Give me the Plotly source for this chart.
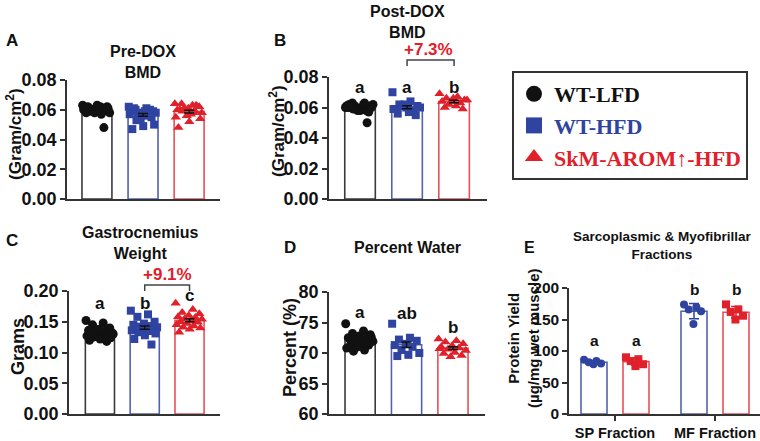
import numpy as np
import plotly.graph_objects as go

W, H = 760, 441

# ---- values ----
groups = ["WT-LFD", "WT-HFD", "SkM-AROM↑-HFD"]

pre_bmd_lfd = [0.063, 0.062, 0.061, 0.062, 0.060, 0.061, 0.059, 0.060, 0.058, 0.059,
               0.062, 0.061, 0.058, 0.060, 0.057, 0.059, 0.061, 0.063, 0.058, 0.048]
pre_bmd_hfd = [0.062, 0.061, 0.060, 0.059, 0.058, 0.060, 0.057, 0.056, 0.058, 0.059,
               0.061, 0.055, 0.054, 0.057, 0.056, 0.053, 0.050, 0.049, 0.047, 0.060]
pre_bmd_arom = [0.064, 0.063, 0.064, 0.062, 0.061, 0.060, 0.059, 0.061, 0.058, 0.057,
                0.060, 0.062, 0.056, 0.055, 0.058, 0.059, 0.054, 0.052, 0.048, 0.063]

post_bmd_lfd = [0.060, 0.062, 0.063, 0.061, 0.059, 0.060, 0.058, 0.061, 0.062, 0.059,
                0.060, 0.057, 0.058, 0.061, 0.063, 0.059, 0.060, 0.058, 0.062, 0.050]
post_bmd_hfd = [0.070, 0.064, 0.062, 0.061, 0.060, 0.059, 0.058, 0.061, 0.060, 0.057,
                0.056, 0.055, 0.062, 0.059, 0.058]
post_bmd_arom = [0.069, 0.067, 0.066, 0.065, 0.066, 0.064, 0.063, 0.062, 0.065, 0.061,
                 0.060, 0.059, 0.064]

gastro_lfd = [0.152, 0.148, 0.145, 0.140, 0.138, 0.136, 0.135, 0.133, 0.132, 0.131, 0.130,
              0.129, 0.128, 0.127, 0.126, 0.125, 0.124, 0.122, 0.120, 0.118, 0.135, 0.130]
gastro_hfd = [0.168, 0.162, 0.158, 0.150, 0.147, 0.145, 0.143, 0.142, 0.141, 0.140, 0.139,
              0.138, 0.137, 0.136, 0.135, 0.133, 0.131, 0.128, 0.122, 0.113, 0.140]
gastro_arom = [0.180, 0.170, 0.165, 0.163, 0.160, 0.158, 0.157, 0.155, 0.154, 0.152,
               0.150, 0.149, 0.147, 0.145, 0.143, 0.141, 0.140, 0.138, 0.133, 0.150]

water_lfd = [74.8, 73.6, 73.2, 73.0, 72.8, 72.5, 72.3, 72.1, 71.9, 71.7, 71.5, 71.3,
             71.0, 70.8, 70.5, 70.3, 72.6]
water_hfd = [74.8, 72.5, 72.2, 72.0, 71.5, 71.3, 71.0, 70.5, 70.0, 69.7, 69.5]
water_arom = [72.3, 72.0, 71.8, 71.5, 71.2, 71.0, 70.8, 70.6, 70.4, 70.1, 69.9, 69.6,
              69.4, 70.7]

fractions = ["SP Fraction", "MF Fraction"]
sp_hfd = [86, 84, 82, 80, 79]
sp_arom = [90, 87, 84, 79, 76]
mf_hfd = [174, 170, 166, 163, 143]
mf_arom = [174, 166, 162, 156, 150]

# ---- styles ----
keys = ["lfd", "hfd", "arom"]
PT = {"lfd": "#111111", "hfd": "#2f43a0", "arom": "#e0202a"}
EDGE = {"lfd": "#3a3a3a", "hfd": "#5163ad", "arom": "#e6505a"}
SYM = {"lfd": "circle", "hfd": "square", "arom": "triangle-up"}
SIZE = {"lfd": 9, "hfd": 8, "arom": 9}
SANS = "Liberation Sans"
AX = "#333333"


def sem(v):
    v = np.asarray(v, float)
    return v.std(ddof=1) / np.sqrt(len(v))


def sd(v):
    return np.asarray(v, float).std(ddof=1)


def jitter(n, w):
    k = np.arange(n)
    return ((k * 0.618034) % 1.0 - 0.5) * w


fig = go.Figure()

# axis name, data, x px span, x range, y px span (top, bottom), y range, dtick, tickformat
panels = [
    ("", [pre_bmd_lfd, pre_bmd_hfd, pre_bmd_arom], (67, 220), [-0.65, 2.67], (80, 199), [0, 0.08], 0.02, ".2f"),
    ("2", [post_bmd_lfd, post_bmd_hfd, post_bmd_arom], (329, 487), [-0.66, 2.70], (77, 199), [0, 0.08], 0.02, ".2f"),
    ("3", [gastro_lfd, gastro_hfd, gastro_arom], (69, 220), [-0.69, 2.68], (291, 414), [0, 0.20], 0.05, ".2f"),
    ("4", [water_lfd, water_hfd, water_arom], (329, 485), [-0.67, 2.69], (292, 414), [60, 80], 5, "d"),
]

for ax, data, xpx, xr, ypx, yr, dt, fmt in panels:
    xa, ya = "x" + ax, "y" + ax
    for i, (k, vals) in enumerate(zip(keys, data)):
        fig.add_trace(go.Bar(x=[i], y=[np.mean(vals)], width=0.65, xaxis=xa, yaxis=ya,
                             marker=dict(color="white", line=dict(color=EDGE[k], width=1.6)),
                             showlegend=False, hoverinfo="skip"))
    for i, (k, vals) in enumerate(zip(keys, data)):
        fig.add_trace(go.Scatter(x=i + jitter(len(vals), 0.62), y=vals, mode="markers",
                                 xaxis=xa, yaxis=ya, cliponaxis=False, showlegend=False,
                                 marker=dict(symbol=SYM[k], color=PT[k], size=SIZE[k])))
    for i, (k, vals) in enumerate(zip(keys, data)):
        fig.add_trace(go.Scatter(x=[i], y=[np.mean(vals)], mode="markers", xaxis=xa, yaxis=ya,
                                 marker=dict(size=2, color="rgba(0,0,0,0)"), showlegend=False,
                                 error_y=dict(type="data", array=[sem(vals)], color="#111111",
                                              thickness=1.5, width=5)))
    fig.layout["xaxis" + ax] = dict(domain=[xpx[0] / W, xpx[1] / W], range=xr, anchor=ya,
                                    automargin=False, showline=True, linecolor=AX, linewidth=1.5,
                                    showticklabels=False, ticks="", showgrid=False, zeroline=False)
    fig.layout["yaxis" + ax] = dict(domain=[1 - ypx[1] / H, 1 - ypx[0] / H], range=yr, anchor=xa,
                                    automargin=False, showline=True, linecolor=AX, linewidth=1.5,
                                    ticks="outside", ticklen=5, tickwidth=1.5, tickcolor=AX,
                                    dtick=dt, tick0=yr[0], tickformat=fmt, showgrid=False,
                                    zeroline=False,
                                    tickfont=dict(family=SANS, size=18, color="#111", weight="bold"))

# panel E: grouped fractions
e_sets = [("hfd", [sp_hfd, mf_hfd], -0.21, "circle"), ("arom", [sp_arom, mf_arom], 0.21, "square")]
for k, vals, off, sym in e_sets:
    fig.add_trace(go.Bar(x=[0, 1], y=[np.mean(v) for v in vals], width=0.26, offset=off - 0.13,
                         xaxis="x5", yaxis="y5", showlegend=False, hoverinfo="skip",
                         marker=dict(color="white", line=dict(color=EDGE[k], width=1.6))))
for k, vals, off, sym in e_sets:
    fig.add_trace(go.Scatter(x=[off, 1 + off], y=[np.mean(v) for v in vals], mode="markers",
                             xaxis="x5", yaxis="y5", showlegend=False,
                             marker=dict(size=2, color="rgba(0,0,0,0)"),
                             error_y=dict(type="data", array=[sd(v) for v in vals], color=PT[k],
                                          thickness=1.5, width=5)))
for k, vals, off, sym in e_sets:
    for j, v in enumerate(vals):
        fig.add_trace(go.Scatter(x=j + off + jitter(len(v), 0.2), y=v, mode="markers",
                                 xaxis="x5", yaxis="y5", cliponaxis=False, showlegend=False,
                                 marker=dict(symbol=sym, color=PT[k], size=8)))
fig.layout["xaxis5"] = dict(domain=[569 / W, 1.0], range=[-0.46, 1.45], anchor="y5",
                            automargin=False, tickvals=[0, 1], ticktext=fractions, showline=True,
                            linecolor=AX, linewidth=1.5, ticks="outside", ticklen=5, tickwidth=1.5,
                            tickcolor=AX, showgrid=False, zeroline=False,
                            tickfont=dict(family=SANS, size=14.5, color="#111", weight="bold"))
fig.layout["yaxis5"] = dict(domain=[1 - 414 / H, 1 - 288 / H], range=[0, 200], anchor="x5",
                            automargin=False, showline=True, linecolor=AX, linewidth=1.5,
                            ticks="outside", ticklen=5, tickwidth=1.5, tickcolor=AX, dtick=50,
                            showgrid=False, zeroline=False,
                            tickfont=dict(family=SANS, size=15.5, color="#111", weight="bold"))

# legend entries
for k, g in zip(keys, groups):
    fig.add_trace(go.Scatter(x=[None], y=[None], mode="markers", xaxis="x", yaxis="y",
                             name=f"<span style='color:{PT[k]}'>{g}</span>",
                             marker=dict(symbol=SYM[k], color=PT[k], size=16)))

# text annotations (pixel positions)
ann = []


def text(x, y, t, size=17, color="#111", angle=0):
    ann.append(dict(x=x / W, y=1 - y / H, xref="paper", yref="paper", text=t, showarrow=False,
                    textangle=angle, xanchor="center", yanchor="middle",
                    font=dict(family=SANS, size=size, color=color, weight="bold")))


text(12, 40, "A")
text(143, 62, "Pre-DOX<br>BMD", 16)
text(14, 134, "(Gram/cm<sup>2</sup>)", 17, angle=-90)
text(280, 40, "B")
text(407, 22, "Post-DOX<br>BMD", 16)
text(277, 131, "(Gram/cm<sup>2</sup>)", 17, angle=-90)
text(12, 240, "C")
text(140, 243, "Gastrocnemius<br>Weight", 16)
text(18, 347, "Grams", 18, angle=-90)
text(290, 247, "D")
text(407, 247, "Percent Water", 16)
text(290, 348, "Percent (%)", 18, angle=-90)
text(529, 247, "E", 16)
text(662, 246, "Sarcoplasmic & Myofibrillar<br>Fractions", 13.5)
text(523, 338, "Protein Yield<br>(µg/mg wet muscle)", 15, angle=-90)


def data_text(ax, x, y, t, color="#111", size=17):
    ann.append(dict(x=x, y=y, xref="x" + ax, yref="y" + ax, text=t, showarrow=False,
                    xanchor="center", yanchor="middle",
                    font=dict(family=SANS, size=size, color=color, weight="bold")))


for i, t in enumerate(["a", "a", "b"]):
    data_text("2", i, 0.0734, t)
for i, (t, y) in enumerate([("a", 0.179), ("b", 0.179), ("c", 0.193)]):
    data_text("3", i, y, t)
for i, (t, y) in enumerate([("a", 76.7), ("ab", 76.4), ("b", 74.1)]):
    data_text("4", i, y, t)
for x, t, y in [(-0.21, "a", 116), (0.21, "a", 116), (0.79, "b", 197), (1.21, "b", 197)]:
    data_text("5", x, y, t, size=15.5)

# significance brackets
shapes = []


def bracket(xpx, xr, c1, c2, ybar, label, ylab, xlab):
    def px(v):
        return xpx[0] + (v - xr[0]) / (xr[1] - xr[0]) * (xpx[1] - xpx[0])
    x1, x2 = px(c1), px(c2)
    pts = [(x1, ybar + 6), (x1, ybar), (x2, ybar), (x2, ybar + 6)]
    path = "M " + " L ".join(f"{x / W:.5f},{1 - y / H:.5f}" for x, y in pts)
    shapes.append(dict(type="path", path=path, xref="paper", yref="paper",
                       line=dict(color="#444", width=1.5)))
    text(xlab, ylab, label, 17, color="#e0202a")


bracket(panels[1][2], panels[1][3], 1, 2, 60, "+7.3%", 50, 428)
bracket(panels[2][2], panels[2][3], 1, 2, 285, "+9.1%", 274, 167)

fig.update_layout(
    width=W, height=H, margin=dict(l=0, r=0, t=0, b=0),
    plot_bgcolor="white", paper_bgcolor="white", barmode="overlay",
    annotations=ann, shapes=shapes,
    legend=dict(x=512 / W, y=1 - 71 / H, xanchor="left", yanchor="top",
                bordercolor="#333", borderwidth=2, bgcolor="white", itemsizing="trace",
                font=dict(family="Liberation Serif", size=22, color="#111", weight="bold")),
)

# page body has an 8px default margin; drop it so the figure sits at the window corner
fig.write_html("out.html", config={"displayModeBar": False},
               post_script="document.body.style.margin='0';")
